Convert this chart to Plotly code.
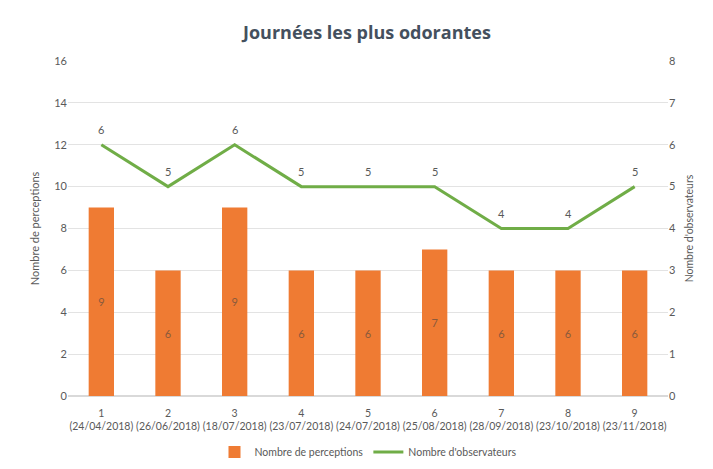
import plotly.graph_objects as go

# valeurs
jours = ["1", "2", "3", "4", "5", "6", "7", "8", "9"]
dates = ["24/04/2018", "26/06/2018", "18/07/2018", "23/07/2018", "24/07/2018",
         "25/08/2018", "28/09/2018", "23/10/2018", "23/11/2018"]
perceptions = [9, 6, 9, 6, 6, 7, 6, 6, 6]
observateurs = [6, 5, 6, 5, 5, 5, 4, 4, 5]

labels = [f"{j}<br>({d})" for j, d in zip(jours, dates)]
grey = "#595959"

fig = go.Figure()
fig.add_trace(go.Bar(
    x=labels, y=perceptions, name="Nombre de perceptions",
    marker=dict(color="#EF7B33", line=dict(width=0)),
    text=perceptions, textposition="inside", insidetextanchor="middle",
    textfont=dict(color="#8a5a3c", size=11), width=0.38,
))
fig.add_trace(go.Scatter(
    x=labels, y=observateurs, name="Nombre d'observateurs", yaxis="y2",
    mode="lines", line=dict(color="#70AD47", width=3),
))

# étiquettes de la courbe
for lab, v in zip(labels, observateurs):
    fig.add_annotation(x=lab, y=v, yref="y2", text=str(v), showarrow=False,
                       yshift=15, font=dict(color=grey, size=11))

fig.update_layout(
    width=697, height=453,
    paper_bgcolor="white", plot_bgcolor="white",
    margin=dict(l=60, r=37, t=53, b=65, autoexpand=False),
    font=dict(family="Lato", color=grey, size=11),
    title=dict(text="<b>Journées les plus odorantes</b>", x=0.515, y=0.945,
               xanchor="center", yanchor="middle",
               font=dict(size=18, color="#44505E", family="Open Sans")),
    xaxis=dict(tickfont=dict(size=10.5, color=grey, family="Lato"), showline=False,
               ticks="outside", ticklen=7, tickcolor="white",
               range=[-0.5, 8.5], tickangle=0, automargin=False),
    yaxis=dict(range=[0, 16], dtick=2, gridcolor="#E3E3E3", zeroline=True,
               zerolinecolor="#D9D9D9", ticks="", tickfont=dict(size=11, color=grey),
               automargin=False,
               title=dict(text="Nombre de perceptions", font=dict(size=11, color=grey),
                          standoff=12)),
    yaxis2=dict(range=[0, 8], dtick=1, overlaying="y", side="right", showgrid=False,
                zeroline=False, tickfont=dict(size=11, color=grey), automargin=False,
                title=dict(text="Nombre d'observateurs", font=dict(size=10.5, color=grey),
                           standoff=10)),
    legend=dict(orientation="h", x=0.5, xanchor="center", y=-0.167, yanchor="middle",
                font=dict(size=10.5, color=grey)),
    showlegend=True,
)

fig.write_html("out.html")
